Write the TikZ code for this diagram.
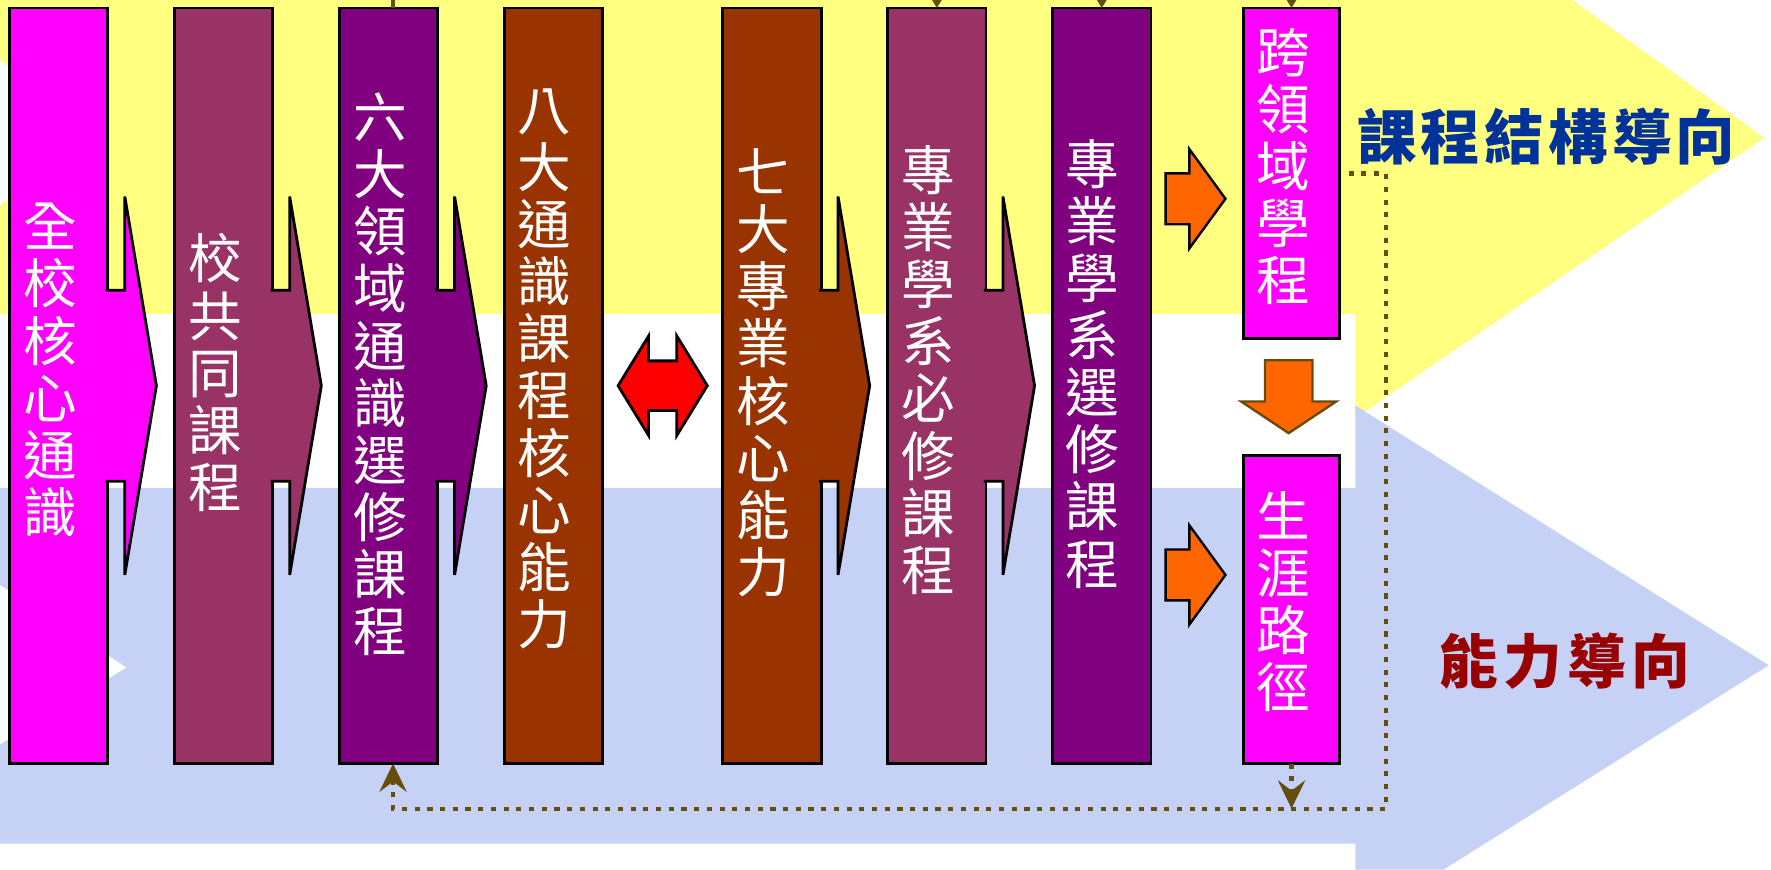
\documentclass[tikz,border=0pt]{standalone}
\usepackage{fontspec}
\newfontfamily\cjk{Noto Sans CJK TC}
\newfontfamily\cjktitle{Noto Sans CJK TC}[LetterSpace=7]
\newfontfamily\cjkwide{Noto Sans CJK TC}[LetterSpace=9]
\usepackage{tikz}
\usetikzlibrary{arrows.meta, positioning, calc}

\definecolor{hotpink}{HTML}{FF00FF}
\definecolor{plum}{HTML}{993366}
\definecolor{grape}{HTML}{800080}
\definecolor{rust}{HTML}{993300}
\definecolor{paleyellow}{HTML}{FFFF80}
\definecolor{paleblue}{RGB}{197,210,246}
\definecolor{blockorange}{HTML}{FF6600}
\definecolor{dotbrown}{RGB}{102,76,13}
\definecolor{titleblue}{HTML}{003399}
\definecolor{titlered}{HTML}{990000}

\begin{document}
\begin{tikzpicture}[
  x=0.1mm, y=-0.1mm,
  node distance=5.9mm,
  colbox/.style={rectangle, draw=black, line width=0.7pt, outer sep=0pt,
    minimum width=8.7mm, minimum height=66.9mm, inner sep=0pt},
  sidebox/.style={colbox, fill=hotpink, minimum width=8.5mm},
  coltext/.style={text=white, font=\cjk\fontsize{13.5}{14.4}\selectfont,
    align=center, inner sep=0pt},
  chevron/.style={draw=black, line width=0.7pt},
  blockarrow/.style={fill=blockorange, draw=black, line width=0.6pt},
  dotline/.style={draw=dotbrown, line width=1.1pt, dash pattern=on 1.3pt off 1.9pt},
  stub/.style={draw=dotbrown, line width=1.1pt},
]
  \useasboundingbox (0,0) rectangle (1568,770);

  \fill[paleyellow] (0,0) -- (1392,0) -- (1562,122) -- (1200,370) -- (1200,278) -- (0,278) -- cycle;
  \fill[paleblue] (0,432) -- (1200,432) -- (1200,359) -- (1566,589) -- (1278,770)
    -- (1200,770) -- (1200,747) -- (0,747) -- cycle;
  \fill[white] (0,53) -- (74,117) -- (0,182) -- cycle;
  \fill[white] (0,518) -- (112,591) -- (0,659) -- cycle;

  \node[colbox, fill=hotpink] (quanxiao) at (52,341.5) {};
  \node[colbox, fill=plum, right=of quanxiao] (xiaogong) {};
  \node[colbox, fill=grape, right=of xiaogong] (liuda) {};
  \node[colbox, fill=rust, right=of liuda] (bada) {};
  \node[colbox, fill=rust, right=10.65mm of bada] (qida) {};
  \node[colbox, fill=plum, right=of qida] (bixiu) {};
  \node[colbox, fill=grape, right=of bixiu] (xuanxiu) {};
  \node[sidebox, minimum height=29.3mm, right=8.2mm of xuanxiu.north east, anchor=north west] (kuayu) {};
  \node[sidebox, minimum height=27.3mm, below=10.3mm of kuayu] (shengya) {};

  \foreach \n/\c in {quanxiao/hotpink, xiaogong/plum, liuda/grape, qida/rust, bixiu/plum}
    \filldraw[chevron, fill=\c] ($(\n.east)+(-2,-84.5)$) -- ($(\n.east)+(15,-84.5)$)
      -- ($(\n.east)+(15,-167.5)$) -- ($(\n.east)+(43,0)$) -- ($(\n.east)+(15,167.5)$)
      -- ($(\n.east)+(15,84.5)$) -- ($(\n.east)+(-2,84.5)$);

  \node[coltext] (quanxiaotext) at ([shift={(-7.5,-14)}]quanxiao.center) {全\\校\\核\\心\\通\\識};
  \node[coltext] (xiaogongtext) at ([shift={(-7.5,-11.5)}]xiaogong.center) {校\\共\\同\\課\\程};
  \node[coltext] (liudatext) at ([shift={(-7.5,-10)}]liuda.center) {六\\大\\領\\域\\通\\識\\選\\修\\課\\程};
  \node[coltext] (badatext) at ([shift={(-8,-15)}]bada.center) {八\\大\\通\\識\\課\\程\\核\\心\\能\\力};
  \node[coltext] (qidatext) at ([shift={(-7.5,-11.5)}]qida.center) {七\\大\\專\\業\\核\\心\\能\\力};
  \node[coltext] (bixiutext) at ([shift={(-7.5,-14)}]bixiu.center) {專\\業\\學\\系\\必\\修\\課\\程};
  \node[coltext] (xuanxiutext) at ([shift={(-8,-19.5)}]xuanxiu.center) {專\\業\\學\\系\\選\\修\\課\\程};
  \node[coltext] (kuayutext) at ([shift={(-7.5,-6)}]kuayu.center) {跨\\領\\域\\學\\程};
  \node[coltext] (shengyatext) at ([shift={(-7.5,-7)}]shengya.center) {生\\涯\\路\\徑};

  \coordinate (swap) at ($(bada.east)!0.5!(qida.west)$);
  \filldraw[fill=red, draw=black, line width=0.7pt] ($(swap)+(-39.5,0)$) -- ++(27,-44) -- ++(0,22)
    -- ++(25,0) -- ++(0,-22) -- ($(swap)+(39.5,0)$) -- ++(-27,44) -- ++(0,-22) -- ++(-25,0)
    -- ++(0,22) -- cycle;

  \coordinate (upr) at (1032,153.5);
  \coordinate (lwr) at (1032,486.5);
  \foreach \a in {upr, lwr}
    \filldraw[blockarrow] (\a) -- ++(21,0) -- ++(0,-21.5) -- ++(32,44) -- ++(-32,44)
      -- ++(0,-21.5) -- ++(-21,0) -- cycle;
  \coordinate (drop) at (1120,319);
  \filldraw[blockarrow, draw=dotbrown] (drop) -- ++(42,0) -- ++(0,36.5) -- ++(21,0) -- ++(-42,28)
    -- ++(-42,-28) -- ++(21,0) -- cycle;

  \coordinate (top) at (0,0);
  \coordinate (loop) at (1227,716);
  \draw[dotline, -{Stealth[length=2.5mm, width=2.4mm, inset=0.9mm]}]
    ([xshift=0.8mm]kuayu.east) -| (loop) -| ([xshift=0.4mm]liuda.south);
  \draw[dotline, -{Stealth[length=2.5mm, width=2.4mm, inset=0.9mm]}]
    (shengya.south) -- (shengya.south |- loop);
  \foreach \n in {bixiu, xuanxiu, kuayu}
    \draw[stub, -{Stealth[length=0.9mm, width=1.1mm]}] (\n.north |- top) -- (\n.north);
  \draw[stub] ([xshift=0.4mm]liuda.north) -- ([xshift=0.4mm]liuda.north |- top);

  \node[font=\cjktitle\bfseries\fontsize{15}{16}\selectfont, text=titleblue, anchor=west,
    inner sep=0pt] (structure) at (1201,121) {課程結構導向};
  \node[font=\cjkwide\bfseries\fontsize{14.8}{16}\selectfont, text=titlered, anchor=west,
    inner sep=0pt] (ability) at (1274,585) {能力導向};
\end{tikzpicture}
\end{document}
